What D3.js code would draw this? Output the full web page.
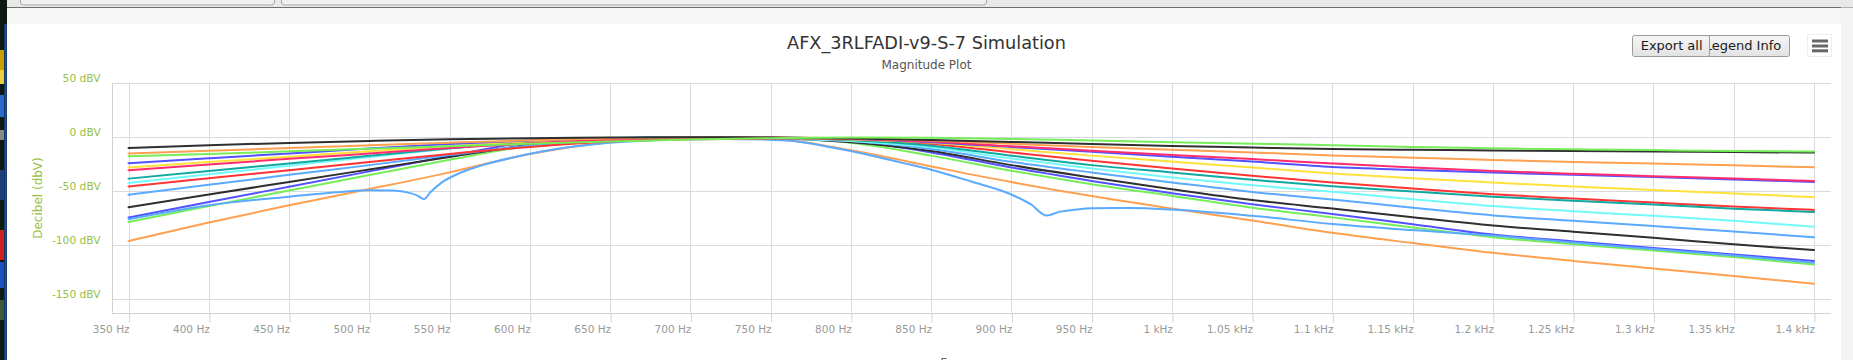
<!DOCTYPE html>
<html><head><meta charset="utf-8">
<script src="https://cdn.jsdelivr.net/npm/d3@7"></script>
<style>html,body{margin:0;padding:0;background:#fff;overflow:hidden}svg{display:block;font-family:"DejaVu Sans",sans-serif}</style>
</head><body><svg id="c" width="1853" height="360"></svg>
<script>
// ---------- data ----------
const freqs = [350,400,450,500,550,600,650,700,750,800,850,900,950,1000,1050,1100,1150,1200,1250,1300,1350,1400];
const black1  = [-10,-7.4,-5.2,-3.4,-1.9,-0.8,-0.2,0,-0.3,-1.2,-2.6,-4.3,-6.3,-8,-9.5,-10.9,-11.6,-12.2,-12.7,-13.2,-13.7,-14.2];
const orange1 = [-15,-12.5,-10,-7.5,-5,-2.8,-1.2,-0.3,-0.2,-1,-3,-6,-9,-11.5,-14,-16.8,-18.9,-21,-22.8,-24.4,-26,-27.8];
const green1  = [-17.5,-15.5,-13,-10.6,-8.2,-6,-3.8,-2,-0.8,-0.2,-0.5,-1.5,-3,-4.5,-5.9,-7.4,-8.9,-10.2,-11.1,-11.9,-12.7,-13.2];
const blue1   = [-24,-19.5,-15,-10.5,-6.2,-3,-1,-0.2,-0.3,-1.5,-4.5,-9,-13.5,-18,-22.5,-27.5,-30.2,-32.6,-34.8,-36.8,-39,-41.5];
const yellow1 = [-28,-23,-18,-13,-8.2,-4,-1.5,-0.3,-0.5,-2,-5,-11,-17,-22.5,-28,-33.5,-38,-42,-45.5,-48.8,-52,-55.5];
const pink1   = [-30.5,-25.3,-20,-15,-10,-5.5,-2.3,-0.6,-0.4,-1.5,-4,-8.4,-12.4,-16.5,-20.2,-24.2,-28,-31.3,-33.8,-36,-38.2,-40.6];
const teal1   = [-38.3,-31.3,-24.2,-17.2,-10.2,-4,-1,0,-0.5,-2.5,-7.8,-17.1,-25.8,-32.6,-39.4,-45.3,-50.3,-55,-58.8,-62.3,-66.1,-69.2];
const cyan1   = [-42.3,-34.3,-26.3,-18.3,-10.5,-3.5,-0.7,0,-0.8,-3.5,-9.3,-19.6,-28.9,-37.3,-44.4,-50.5,-57.3,-63.7,-68.5,-72.8,-77.4,-82.8];
const red1    = [-45.5,-38,-30.5,-23,-15.5,-9,-4,-1.8,-1.2,-2.2,-6.2,-14,-21.7,-28.9,-35.7,-41.8,-47.5,-52.8,-56.8,-60.5,-64.2,-67.3];
const lblue1  = [-53.3,-44,-34.8,-25.8,-16.5,-7.5,-2.5,-0.5,-0.8,-3.5,-10.9,-22.7,-32.6,-41.9,-50.6,-57.7,-65.3,-72.4,-77.4,-82.2,-87.2,-92.7];
const black2  = [-64.8,-53,-41.4,-29.8,-18.2,-7,-2,-0.3,-0.8,-4.5,-12.7,-25.8,-37.3,-48.1,-58.1,-66,-74,-81.7,-87.5,-93,-99.2,-104.5];
const blue2   = [-74.4,-60,-45.8,-31.6,-17.4,-4.5,-1,0,-0.5,-3.5,-14,-28,-40.4,-51.9,-62.1,-71,-80.6,-90.1,-96.5,-102.5,-108.5,-114.5];
const green2  = [-78.4,-63.7,-49.4,-35,-20.8,-8,-2.5,-0.8,-1,-5,-17,-31,-43.5,-54.3,-65.2,-74.2,-83.5,-92.5,-99,-105,-111,-117.9];
const orange2 = [-96,-79,-63,-48,-32.5,-15.5,-4.5,-1,-1.5,-12,-27,-41.5,-54.5,-66,-77,-88.5,-98,-107,-114.5,-121.5,-128.5,-135.7];
const notchFreqs = [350,400,450,480,500,515,525,530,534,538,545,555,570,590,610,640,680,720,760,790,810,830,850,875,900,912,922,930,940,950,975,1000,1050,1100,1150,1200,1250,1300,1350,1400];
const notchDb    = [-76,-63,-55,-51,-49,-49.3,-51.5,-54,-57.3,-51,-42,-34,-26,-18.5,-12.5,-6.5,-2.5,-1.5,-3,-10,-16,-23,-30,-41,-53,-62,-72.5,-69,-67,-65.8,-65.5,-67,-72.8,-80.3,-86,-91,-97.5,-103.5,-109.5,-116.3];

const xTickValues = [350,400,450,500,550,600,650,700,750,800,850,900,950,1000,1050,1100,1150,1200,1250,1300,1350,1400];
const xTickLabels = ["350 Hz","400 Hz","450 Hz","500 Hz","550 Hz","600 Hz","650 Hz","700 Hz","750 Hz","800 Hz","850 Hz","900 Hz","950 Hz","1 kHz","1.05 kHz","1.1 kHz","1.15 kHz","1.2 kHz","1.25 kHz","1.3 kHz","1.35 kHz","1.4 kHz"];
const yTickValues = [50,0,-50,-100,-150];
const yTickLabels = ["50 dBV","0 dBV","-50 dBV","-100 dBV","-150 dBV"];

const series = [
  {c:"#ffa050", f:freqs, v:orange2},
  {c:"#75ee58", f:freqs, v:green2},
  {c:"#5252ff", f:freqs, v:blue2},
  {c:"#5aaaff", f:notchFreqs, v:notchDb},
  {c:"#2f2f2f", f:freqs, v:black2},
  {c:"#5aaaff", f:freqs, v:lblue1},
  {c:"#72fafa", f:freqs, v:cyan1},
  {c:"#ff3535", f:freqs, v:red1},
  {c:"#10a8a0", f:freqs, v:teal1},
  {c:"#ffe13a", f:freqs, v:yellow1},
  {c:"#5252ff", f:freqs, v:blue1},
  {c:"#ff2d6e", f:freqs, v:pink1},
  {c:"#ffa050", f:freqs, v:orange1},
  {c:"#2f2f2f", f:freqs, v:black1},
  {c:"#75ee58", f:freqs, v:green1}
];

// ---------- layout ----------
const svg = d3.select("#c");
const W = 1853, H = 360;
const L = 111.7, R = 1830.8, T = 83.3, B = 312.7;
const x = d3.scaleLinear().domain([339.5, 1410.5]).range([L, R]);
const y = d3.scaleLinear().domain([-162.5, 50]).range([B, T]);

// page chrome
svg.append("rect").attr("x",0).attr("y",0).attr("width",W).attr("height",H).attr("fill","#fff");
svg.append("rect").attr("x",0).attr("y",0).attr("width",W).attr("height",24).attr("fill","#f6f6f6");
svg.append("rect").attr("x",0).attr("y",0).attr("width",W).attr("height",7.3).attr("fill","#e9e9e9");
svg.append("line").attr("x1",0).attr("x2",W).attr("y1",7.5).attr("y2",7.5).attr("stroke","#6e6e6e");
[[20,274],[281,986]].forEach(b=>{
  svg.append("rect").attr("x",b[0]+0.5).attr("y",-6).attr("width",b[1]-b[0]).attr("height",11).attr("rx",3)
    .attr("fill","#f0f0f0").attr("stroke","#a9a9a9");
});
svg.append("rect").attr("x",1841).attr("y",7.5).attr("width",12).attr("height",H).attr("fill","#f3f3f3");
// left desktop strip
svg.append("rect").attr("x",0).attr("y",0).attr("width",7).attr("height",H).attr("fill","#0d1b12");
[[50,20,"#c8a000"],[70,14,"#e8d040"],[95,22,"#2a6ad0"],[130,10,"#888"],[170,30,"#1c3f7a"],[230,30,"#d02020"],[262,26,"#1d50c0"],[300,20,"#3a5a3a"]].forEach(b=>{
  svg.append("rect").attr("x",0).attr("y",b[0]).attr("width",4).attr("height",b[1]).attr("fill",b[2]);
});
svg.append("rect").attr("x",4.5).attr("y",24).attr("width",2.2).attr("height",H).attr("fill","#1f4fa8");

// title
svg.append("text").attr("x",926.5).attr("y",48.5).attr("text-anchor","middle")
  .attr("font-size","17.7px").attr("fill","#333").text("AFX_3RLFADI-v9-S-7 Simulation");
svg.append("text").attr("x",926.5).attr("y",68.5).attr("text-anchor","middle")
  .attr("font-size","12px").attr("fill","#555").text("Magnitude Plot");

// grid
const grid = svg.append("g");
grid.selectAll("line.h").data(yTickValues).join("line")
  .attr("x1",L).attr("x2",R).attr("y1",d=>Math.round(y(d))+0.5).attr("y2",d=>Math.round(y(d))+0.5)
  .attr("stroke","#d8dade").attr("stroke-width",1);
grid.selectAll("line.v").data(xTickValues).join("line")
  .attr("x1",d=>Math.round(x(d))+0.5).attr("x2",d=>Math.round(x(d))+0.5).attr("y1",T).attr("y2",B)
  .attr("stroke","#d8dade").attr("stroke-width",1);
svg.append("line").attr("x1",Math.round(L)+0.5).attr("x2",Math.round(L)+0.5).attr("y1",T).attr("y2",B)
  .attr("stroke","#cdd2d9");

// x axis
const xAxis = d3.axisBottom(x).tickValues(xTickValues).tickFormat((d,i)=>xTickLabels[i])
  .tickSizeInner(9).tickSizeOuter(0).tickPadding(10);
const gx = svg.append("g").attr("transform",`translate(0,${Math.round(B)+0.5})`).call(xAxis);
gx.select(".domain").attr("d",`M${L},0H${R}`).attr("stroke","#cdd2d9");
gx.selectAll(".tick line").attr("stroke","#cdd2d9").attr("transform","translate(0.5,0)");
gx.selectAll(".tick text").attr("text-anchor","end").attr("x",0.5).attr("y",19.5).attr("dy",null)
  .attr("fill","#999").attr("font-size","10.5px").attr("font-family","DejaVu Sans");

// y axis labels
const yAxis = d3.axisLeft(y).tickValues(yTickValues).tickFormat((d,i)=>yTickLabels[i]).tickSize(0).tickPadding(0);
const gy = svg.append("g").attr("transform",`translate(${100.7},0)`).call(yAxis);
gy.select(".domain").remove();
gy.selectAll(".tick text").attr("fill","#98bf45").attr("font-size","10.7px").attr("font-family","DejaVu Sans")
  .attr("dy",null).attr("y",-1.5).attr("x",0);

svg.append("text").attr("transform",`translate(41.5,${(T+B)/2}) rotate(-90)`).attr("text-anchor","middle")
  .attr("font-size","12px").attr("fill","#98bf45").text("Decibel (dbV)");
svg.append("text").attr("x",(L+R)/2).attr("y",367).attr("text-anchor","middle")
  .attr("font-size","12px").attr("fill","#666").text("Frequency");

// series
const line = d3.line().curve(d3.curveMonotoneX);
const gs = svg.append("g");
series.forEach(s=>{
  const pts = s.f.map((f,i)=>[x(f), y(s.v[i])]);
  gs.append("path").attr("d",line(pts)).attr("fill","none").attr("stroke",s.c)
    .attr("stroke-width",2).attr("stroke-linejoin","round").attr("stroke-linecap","round");
});

// buttons
const defs = svg.append("defs");
const gr = defs.append("linearGradient").attr("id","bg").attr("x1",0).attr("y1",0).attr("x2",0).attr("y2",1);
gr.append("stop").attr("offset","0").attr("stop-color","#f6f6f6");
gr.append("stop").attr("offset","1").attr("stop-color","#e2e2e2");
function btn(x0,x1,label,tx){
  svg.append("rect").attr("x",x0+0.5).attr("y",35.5).attr("width",x1-x0).attr("height",21).attr("rx",2)
    .attr("fill","url(#bg)").attr("stroke","#9a9a9a");
  svg.append("text").attr("x",tx).attr("y",50.3).attr("font-size","13px").attr("fill","#1a1a1a").text(label);
}
btn(1697,1789,"Legend Info",1704.7);
btn(1632,1709,"Export all",1640.7);
svg.append("rect").attr("x",1807.5).attr("y",34.5).attr("width",24).attr("height",22).attr("fill","#fff").attr("stroke","#eeeeee");
[41,46,50.8].forEach(yy=>{
  svg.append("line").attr("x1",1812).attr("x2",1828).attr("y1",yy).attr("y2",yy).attr("stroke","#666").attr("stroke-width",3);
});
</script></body></html>
